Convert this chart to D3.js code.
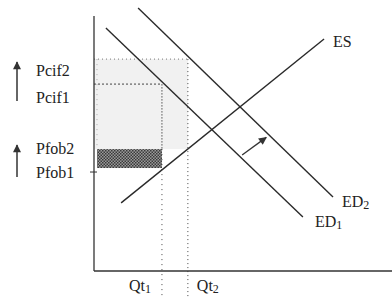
<!DOCTYPE html>
<html>
<head>
<meta charset="utf-8">
<script src="https://cdn.jsdelivr.net/npm/d3@7"></script>
<style>
  body { margin: 0; background: #fff; }
  svg { display: block; font-family: "Liberation Serif", "DejaVu Serif", serif; }
</style>
</head>
<body>
<svg id="chart"></svg>
<script>
// curves as [x, y] endpoints in (quantity, price) units
const curveNames = ["ED1", "ED2", "ES"];
const curveStart = [[4, 95.3], [14.8, 103.1], [9.1, 26.7]];
const curveEnd = [[70.1, 21.2], [80.2, 29.0], [77.2, 91.0]];

const quantityNames = ["Qt1", "Qt2"];
const quantityValues = [22.8, 31.5];

const priceNames = ["Pcif2", "Pcif1", "Pfob2", "Pfob1"];
const priceValues = [83.1, 73.3, 47.8, 39.6];

const width = 392;
const height = 297;

const svg = d3.select("#chart").attr("width", width).attr("height", height);

const x = d3.scaleLinear().domain([0, 100]).range([94, 392]);
const y = d3.scaleLinear().domain([0, 100]).range([271, 16]);

const defs = svg.append("defs");
const pat = defs.append("pattern")
    .attr("id", "hatch")
    .attr("width", 3).attr("height", 3)
    .attr("patternUnits", "userSpaceOnUse");
pat.append("rect").attr("width", 3).attr("height", 3).attr("fill", "#9a9a9a");
pat.append("rect").attr("width", 1.5).attr("height", 1.5).attr("fill", "#3a3a3a");
pat.append("rect").attr("x", 1.5).attr("y", 1.5).attr("width", 1.5).attr("height", 1.5).attr("fill", "#3a3a3a");

defs.append("marker")
    .attr("id", "head")
    .attr("viewBox", "0 0 10 10")
    .attr("refX", 9).attr("refY", 5)
    .attr("markerWidth", 12).attr("markerHeight", 8)
    .attr("markerUnits", "userSpaceOnUse")
    .attr("orient", "auto")
  .append("path")
    .attr("d", "M0,0 L10,5 L0,10 Z")
    .attr("fill", "#333");

// light grey area
svg.append("rect")
    .attr("x", x(0))
    .attr("y", y(priceValues[0]))
    .attr("width", x(quantityValues[1]) - x(0))
    .attr("height", y(priceValues[2]) - y(priceValues[0]))
    .attr("fill", "#f1f1f1");

// dark hatched area
svg.append("rect")
    .attr("x", x(1))
    .attr("y", y(priceValues[2]))
    .attr("width", x(quantityValues[0]) - x(1))
    .attr("height", y(priceValues[3]) - y(priceValues[2]) - 2)
    .attr("fill", "url(#hatch)");

// dotted guides
const guides = svg.append("g").attr("fill", "none");
guides.append("line")
    .attr("x1", x(0)).attr("x2", x(quantityValues[1]))
    .attr("y1", y(priceValues[0])).attr("y2", y(priceValues[0]))
    .attr("stroke", "#777").attr("stroke-dasharray", "1 3");
guides.append("line")
    .attr("x1", x(0)).attr("x2", x(quantityValues[0]))
    .attr("y1", y(priceValues[1])).attr("y2", y(priceValues[1]))
    .attr("stroke", "#444").attr("stroke-dasharray", "2 2");
guides.append("line")
    .attr("x1", x(1)).attr("x2", x(1))
    .attr("y1", y(priceValues[0])).attr("y2", y(priceValues[2]))
    .attr("stroke", "#aaa").attr("stroke-dasharray", "1 4");
guides.append("line")
    .attr("x1", x(quantityValues[0])).attr("x2", x(quantityValues[0]))
    .attr("y1", y(priceValues[1])).attr("y2", y(priceValues[2]))
    .attr("stroke", "#555").attr("stroke-dasharray", "1.5 1.5");
guides.append("line")
    .attr("x1", x(quantityValues[0])).attr("x2", x(quantityValues[0]))
    .attr("y1", y(priceValues[2])).attr("y2", height)
    .attr("stroke", "#444").attr("stroke-dasharray", "1 4");
guides.append("line")
    .attr("x1", x(quantityValues[1])).attr("x2", x(quantityValues[1]))
    .attr("y1", y(priceValues[0])).attr("y2", height)
    .attr("stroke", "#444").attr("stroke-dasharray", "1 3");

// axes
svg.append("line")
    .attr("x1", x(0)).attr("x2", x(0))
    .attr("y1", y(100)).attr("y2", y(0))
    .attr("stroke", "#333").attr("stroke-width", 1.3);
svg.append("line")
    .attr("x1", x(0)).attr("x2", x(100))
    .attr("y1", y(0)).attr("y2", y(0))
    .attr("stroke", "#333").attr("stroke-width", 1.3);
svg.append("line")
    .attr("x1", x(0) - 4).attr("x2", x(0) + 3)
    .attr("y1", y(priceValues[3]) + 2).attr("y2", y(priceValues[3]) + 2)
    .attr("stroke", "#333");

// curves
const line = d3.line().x(d => x(d[0])).y(d => y(d[1]));
svg.append("g")
    .selectAll("path")
    .data(curveNames.map((n, i) => [curveStart[i], curveEnd[i]]))
    .enter().append("path")
      .attr("d", line)
      .attr("fill", "none")
      .attr("stroke", "#2a2a2a")
      .attr("stroke-width", 1.4);

// shift arrow between ED1 and ED2
svg.append("line")
    .attr("x1", x(49.7)).attr("y1", y(45.5))
    .attr("x2", x(57.8)).attr("y2", y(52.4))
    .attr("stroke", "#333").attr("stroke-width", 1.3)
    .attr("marker-end", "url(#head)");

// up arrows beside price labels (from the lower price label to the higher one)
const arrowX = 17;
[[101, 62], [177, 145]].forEach(([y1, y2]) => {
  svg.append("line")
      .attr("x1", arrowX).attr("x2", arrowX)
      .attr("y1", y1).attr("y2", y2)
      .attr("stroke", "#333").attr("stroke-width", 1.5)
      .attr("marker-end", "url(#head)");
});

// labels
const labels = svg.append("g").attr("fill", "#222").style("font-size", "16px");

const priceOffsets = [17, 19, 5, 8];
labels.selectAll(".price")
    .data(priceNames)
    .enter().append("text")
      .attr("class", "price")
      .attr("x", 36)
      .attr("y", (d, i) => y(priceValues[i]) + priceOffsets[i])
      .text(d => d);

function sub(sel, base, s) {
  sel.append("tspan").text(base);
  sel.append("tspan").style("font-size", "12px").attr("dy", 2).text(s);
}

quantityNames.forEach((n, i) => {
  const t = labels.append("text")
      .attr("x", x(quantityValues[i]) + (i === 0 ? -33 : 9))
      .attr("y", 291);
  sub(t, n.slice(0, 2), n.slice(2));
});

const curveLabelPos = [[315, 227], [342, 207], [333, 47]];
curveNames.forEach((n, i) => {
  const t = labels.append("text")
      .attr("x", curveLabelPos[i][0])
      .attr("y", curveLabelPos[i][1]);
  if (n === "ES") t.text(n);
  else sub(t, n.slice(0, 2), n.slice(2));
});
</script>
</body>
</html>
